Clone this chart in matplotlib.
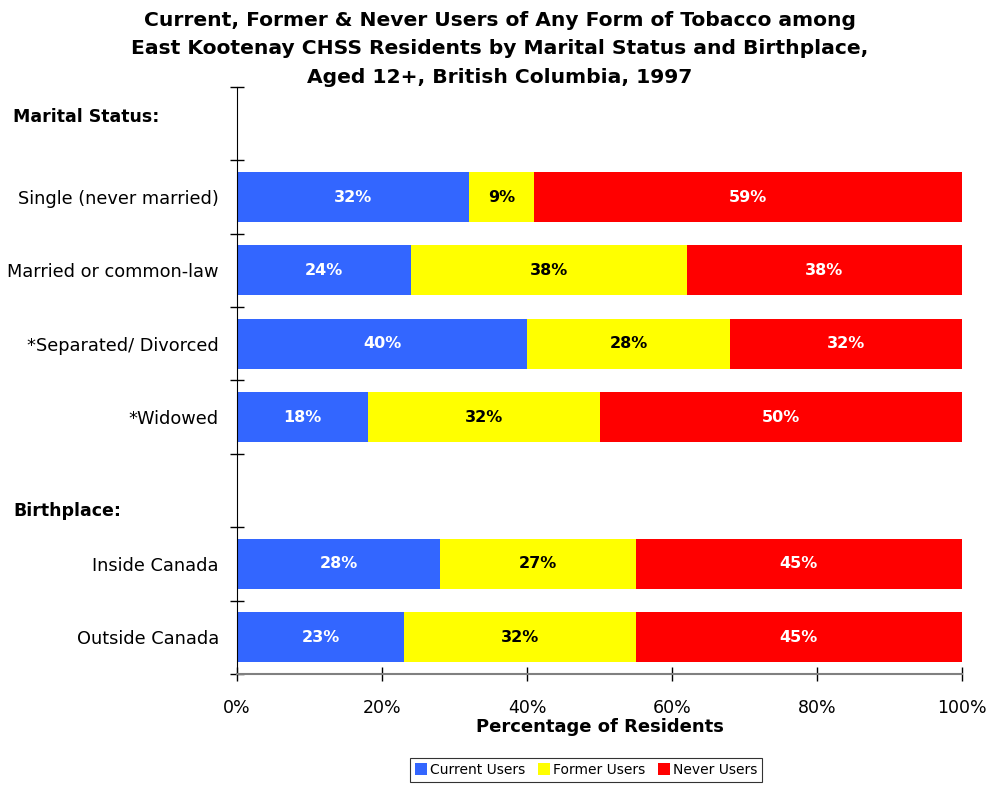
import matplotlib
matplotlib.use("Agg")
import matplotlib.pyplot as plt
from matplotlib.patches import Patch

categories = ["Single (never married)", "Married or common-law", "*Separated/ Divorced",
              "*Widowed", "Inside Canada", "Outside Canada"]
slots = [1, 2, 3, 4, 6, 7]
current = [32, 24, 40, 18, 28, 23]
former = [9, 38, 28, 32, 27, 32]
never = [59, 38, 32, 50, 45, 45]
series_names = ["Current Users", "Former Users", "Never Users"]
colors = ["#3366FF", "#FFFF00", "#FF0000"]
text_colors = ["white", "black", "white"]
xticks = [0, 20, 40, 60, 80, 100]

plt.rcParams['font.family'] = ['DejaVu Sans']

fig = plt.figure(figsize=(9.88, 7.87), dpi=100)
ax = fig.add_axes([0.2399, 0.1436, 0.9737 - 0.2399, 0.8895 - 0.1436])

ycent = [s + 0.5 for s in slots]
left = [0] * len(categories)
for vals, col, tc, name in zip([current, former, never], colors, text_colors, series_names):
    ax.barh(ycent, vals, left=left, height=0.68, color=col, label=name, edgecolor='none')
    for y, l, v in zip(ycent, left, vals):
        ax.text(l + v / 2, y, f"{v}%", ha='center', va='center', color=tc,
                fontsize=11.5, fontweight='bold')
    left = [a + b for a, b in zip(left, vals)]

ax.set_xlim(0, 100)
ax.set_ylim(8, 0)
ax.set_yticks(range(0, 9))
ax.set_yticklabels([])
ax.set_yticks(ycent, minor=True)
ax.set_yticklabels(categories, minor=True, fontsize=12.8)
ax.tick_params(axis='y', which='minor', length=0, pad=13)
ax.tick_params(axis='y', which='major', direction='inout', length=10, width=1)
ax.set_xticks(xticks)
ax.set_xticklabels([f"{t}%" for t in xticks], fontsize=12.5)
ax.tick_params(axis='x', direction='inout', length=10, width=1, pad=13)

for s in ['top', 'right']:
    ax.spines[s].set_visible(False)
ax.spines['left'].set_color('black')
ax.spines['bottom'].set_color('#808080')
ax.spines['bottom'].set_linewidth(1.5)

ax.set_xlabel("Percentage of Residents", fontsize=13, fontweight='bold', labelpad=1)

fig.text(13 / 988, 1 - 117 / 787, "Marital Status:", fontsize=12.5, fontweight='bold',
         ha='left', va='center')
fig.text(13 / 988, 1 - 511 / 787, "Birthplace:", fontsize=12.5, fontweight='bold',
         ha='left', va='center')

fig.text(500 / 988, 1 - 49 / 787,
         "Current, Former & Never Users of Any Form of Tobacco among\n"
         "East Kootenay CHSS Residents by Marital Status and Birthplace,\n"
         "Aged 12+, British Columbia, 1997",
         ha='center', va='center', fontsize=14.6, fontweight='bold', linespacing=1.65)

handles = [Patch(facecolor=c, edgecolor='none') for c in colors]
leg = fig.legend(handles, series_names, loc='center', bbox_to_anchor=(586 / 988, 1 - 770 / 787),
                 ncol=3, fontsize=10, frameon=True, fancybox=False, handlelength=0.9,
                 handleheight=0.9, handletextpad=0.2, columnspacing=0.9, borderpad=0.35)
leg.get_frame().set_edgecolor('black')
leg.get_frame().set_linewidth(0.8)

fig.savefig("out.png", dpi=100)
